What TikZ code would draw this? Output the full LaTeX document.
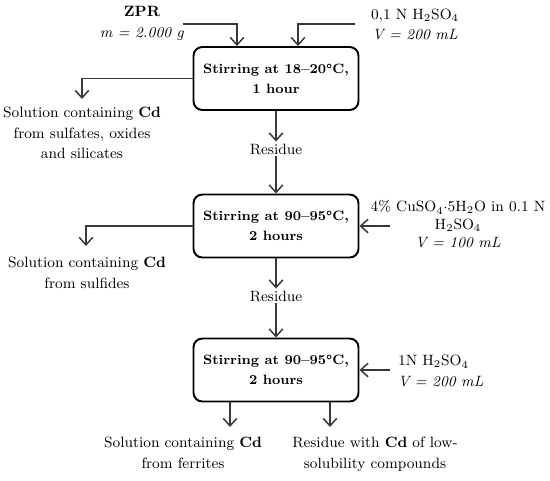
\documentclass[tikz,border=0pt]{standalone}
\usepackage{tikz}
\usetikzlibrary{arrows.meta}

\begin{document}
\begin{tikzpicture}[
  font=\fontsize{8.5}{11.7}\selectfont,
  >={Straight Barb[length=1.5mm,width=2.7mm]},
  stagebox/.style={draw=black, line width=1.1pt, rounded corners=5pt,
                fill=white, minimum width=3.3cm, minimum height=1.26cm,
                align=center, font=\fontsize{7.7}{11.3}\selectfont\bfseries},
  label/.style={inner sep=1pt, align=center},
  flow/.style={->, line width=0.85pt, black!78}]

\useasboundingbox (0,0) rectangle (11,-9.6);

%% ---- etapas ----
\node[stagebox] (b1) at (5.52,-1.57) {Stirring at 18--20\textdegree C,\\ 1 hour};
\node[stagebox] (b2) at (5.52,-4.52) {Stirring at 90--95\textdegree C,\\ 2 hours};
\node[stagebox] (b3) at (5.52,-7.40) {Stirring at 90--95\textdegree C,\\ 2 hours};

%% ---- entradas ----
\node[label] (zpr) at (2.84,-0.47) {\textbf{ZPR}\\ \textit{m = 2.000 g}};
\node[label] (acid1) at (8.30,-0.49) {0,1 N H\textsubscript{2}SO\textsubscript{4}\\ \textit{V = 200 mL}};
\node[label, font=\fontsize{8.5}{10}\selectfont] (acid2) at (9.16,-4.48)
  {4\% CuSO\textsubscript{4}$\cdot$5H\textsubscript{2}O in 0.1 N\\ H\textsubscript{2}SO\textsubscript{4}\\ \textit{V = 100 mL}};
\node[label, align=left, anchor=west] (acid3) at (7.92,-7.42)
  {1N H\textsubscript{2}SO\textsubscript{4}\\ \textit{V = 200 mL}};

\coordinate (zprin) at (3.66,-0.48);
\coordinate (acid1in) at (7.10,-0.48);
\coordinate (acid2in) at (7.80,-4.52);
\coordinate (acid3in) at (7.80,-7.40);

%% ---- salidas ----
\node[label] (res1) at (5.52,-2.98) {Residue};
\node[label] (res2) at (5.52,-5.92) {Residue};

\node[label, anchor=north] (sol1) at (1.64,-2.10)
  {Solution containing \textbf{Cd}\\ from sulfates, oxides\\ and silicates};
\node[label, anchor=north] (sol2) at (1.74,-5.10)
  {Solution containing \textbf{Cd}\\ from sulfides};
\node[label, anchor=north] (sol3) at (3.66,-8.70)
  {Solution containing \textbf{Cd}\\ from ferrites};
\node[label, anchor=north] (res3) at (7.50,-8.70)
  {Residue with \textbf{Cd} of low-\\ solubility compounds};

\coordinate (s1) at (1.64,-1.98);
\coordinate (s2) at (1.72,-4.92);
\coordinate (s3) at (4.60,-8.54);
\coordinate (r3) at (6.60,-8.54);

%% ---- flujo ----
\draw[flow] (zprin) -| ([xshift=-0.78cm]b1.north);
\draw[flow] (acid1in) -| ([xshift=0.44cm]b1.north);
\draw[flow] (b1.west) -| (s1);
\draw[flow] (b1.south) -- (res1.north);
\draw[flow] (res1.south) -- (b2.north);

\draw[flow] (acid2in) -- (b2.east);
\draw[flow] (b2.west) -| (s2);
\draw[flow] (b2.south) -- (res2.north);
\draw[flow] (res2.south) -- (b3.north);

\draw[flow] (acid3in) -- (b3.east);
\draw[flow] (b3.south -| s3) -- (s3);
\draw[flow] (b3.south -| r3) -- (r3);
\end{tikzpicture}
\end{document}
